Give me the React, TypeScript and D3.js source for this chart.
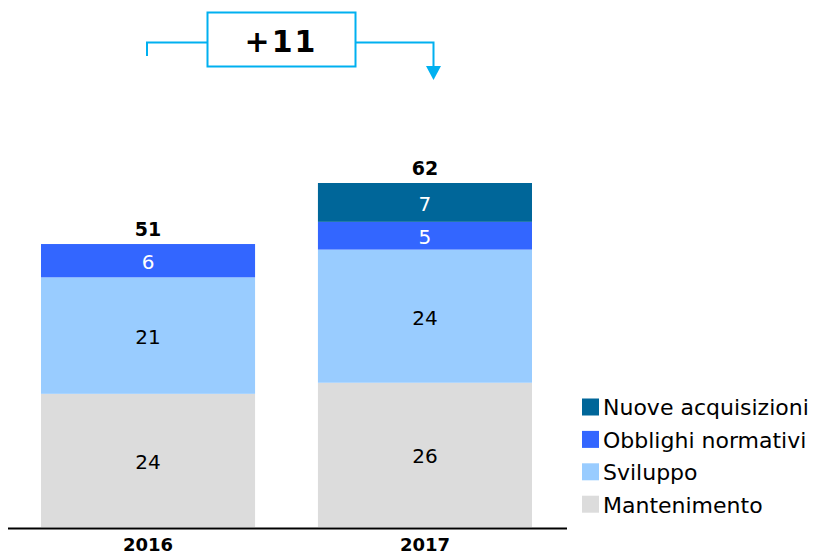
import React, { useRef, useEffect } from 'react';
import * as d3 from 'd3';

const years = ['2016', '2017'];
const seriesNames = ['Mantenimento', 'Sviluppo', 'Obblighi normativi', 'Nuove acquisizioni'];
const mantenimento = [24, 26];
const sviluppo = [21, 24];
const obblighi = [6, 5];
const nuove = [0, 7];
const totals = [51, 62];
const deltaLabel = '+11';

const colors = ['#dcdcdc', '#99ccff', '#3366ff', '#006699'];
const textColors = ['#000', '#000', '#fff', '#fff'];

export default function App() {
    const svgRef = useRef<SVGSVGElement>(null);
    const width = 815;
    const height = 555;

    useEffect(() => {
        const svg = d3.select(svgRef.current);
        svg.selectAll('*').remove();
        const font = 'DejaVu Sans, Verdana, sans-serif';

        const rows = years.map((yr, i) => ({
            year: yr,
            'Mantenimento': mantenimento[i],
            'Sviluppo': sviluppo[i],
            'Obblighi normativi': obblighi[i],
            'Nuove acquisizioni': nuove[i],
        }));
        const stacked = d3.stack<any>().keys(seriesNames)(rows);

        const x = d3.scaleBand()
            .domain(years)
            .range([41, 532])
            .paddingInner(0.227)
            .paddingOuter(0);

        const y = d3.scaleLinear()
            .domain([0, 62])
            .range([527, 183]);

        // bars + segment labels
        stacked.forEach((layer, k) => {
            const g = svg.append('g');
            const segs = layer.filter(d => d[1] - d[0] > 0);
            g.selectAll('rect')
                .data(segs)
                .join('rect')
                .attr('x', d => x(d.data.year)!)
                .attr('width', x.bandwidth())
                .attr('y', d => y(d[1]))
                .attr('height', d => y(d[0]) - y(d[1]))
                .attr('fill', colors[k]);
            g.selectAll('text')
                .data(segs)
                .join('text')
                .attr('x', d => x(d.data.year)! + x.bandwidth() / 2)
                .attr('y', d => (y(d[0]) + y(d[1])) / 2)
                .attr('dy', '0.42em')
                .attr('text-anchor', 'middle')
                .attr('font-family', font)
                .attr('font-size', 20)
                .attr('fill', textColors[k])
                .text(d => d[1] - d[0]);
        });

        // totals
        svg.append('g')
            .selectAll('text')
            .data(years)
            .join('text')
            .attr('x', d => x(d)! + x.bandwidth() / 2)
            .attr('y', (d, i) => y(totals[i]) - 15)
            .attr('dy', '0.38em')
            .attr('text-anchor', 'middle')
            .attr('font-family', font)
            .attr('font-weight', 'bold')
            .attr('font-size', 19)
            .attr('fill', '#000')
            .text((d, i) => totals[i]);

        // x axis
        svg.append('line')
            .attr('x1', 8).attr('x2', 567)
            .attr('y1', 528.5).attr('y2', 528.5)
            .attr('stroke', '#000')
            .attr('stroke-width', 2);

        svg.append('g')
            .selectAll('text')
            .data(years)
            .join('text')
            .attr('x', d => x(d)! + x.bandwidth() / 2)
            .attr('y', 545)
            .attr('dy', '0.36em')
            .attr('text-anchor', 'middle')
            .attr('font-family', font)
            .attr('font-weight', 'bold')
            .attr('font-size', 18)
            .text(d => d);

        // legend, top to bottom in reverse stack order
        const legendItems = seriesNames.map((name, i) => ({ name, color: colors[i] })).reverse();
        const lg = svg.append('g');
        legendItems.forEach((item, i) => {
            const cy = 407 + i * 32.4;
            lg.append('rect')
                .attr('x', 582).attr('y', cy - 8.5)
                .attr('width', 17).attr('height', 17)
                .attr('fill', item.color);
            lg.append('text')
                .attr('x', 603).attr('y', cy)
                .attr('dy', '0.38em')
                .attr('font-family', font)
                .attr('font-size', 22)
                .attr('fill', '#000')
                .text(item.name);
        });

        // delta annotation
        const blue = '#00b0f0';
        const ann = svg.append('g');
        ann.append('path')
            .attr('d', 'M147,56 L147,42.5 L207,42.5')
            .attr('fill', 'none').attr('stroke', blue).attr('stroke-width', 2);
        ann.append('path')
            .attr('d', 'M356,42.5 L433.5,42.5 L433.5,68')
            .attr('fill', 'none').attr('stroke', blue).attr('stroke-width', 2);
        ann.append('path')
            .attr('d', 'M426,66 L441,66 L433.5,80 Z')
            .attr('fill', blue);
        ann.append('rect')
            .attr('x', 207.5).attr('y', 12.5)
            .attr('width', 148).attr('height', 54)
            .attr('fill', '#fff').attr('stroke', blue).attr('stroke-width', 2);
        ann.append('text')
            .attr('x', 281).attr('y', 41)
            .attr('dy', '0.38em')
            .attr('text-anchor', 'middle')
            .attr('font-family', font)
            .attr('font-weight', 'bold')
            .attr('font-size', 30)
            .attr('letter-spacing', 2)
            .attr('fill', '#000')
            .text(deltaLabel);
    }, []);

    return (
        <svg
            ref={svgRef}
            width={width}
            height={height}
            viewBox={`0 0 ${width} ${height}`}
            style={{ position: 'absolute', left: 0, top: 0, display: 'block' }}
        />
    );
}
